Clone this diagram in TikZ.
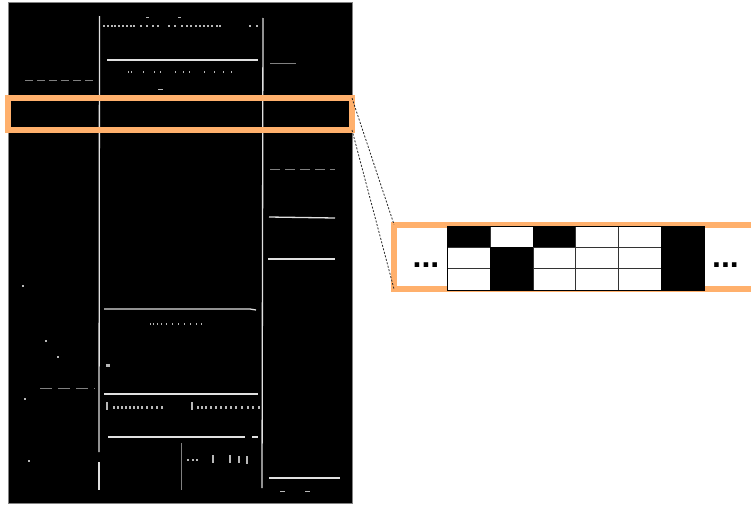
\documentclass[tikz,border=0pt]{standalone}
\usepackage{fontspec}
\usepackage{xcolor}
\usepackage{tikz}
\usetikzlibrary{positioning, arrows.meta}
\newfontfamily\dotfont{Liberation Sans}
\definecolor{hlorange}{RGB}{255,176,108}
\definecolor{pageedge}{RGB}{130,130,130}
\tikzset{
    scan/.style      = {fill=black, draw=pageedge, line width=0.8},
    rule/.style      = {draw=white!88!black, line width=1.3},
    faint/.style     = {draw=white!50!black, line width=0.9},
    speck/.style     = {fill=white!72!black},
    hlbox/.style     = {draw=hlorange, line width=6, outer sep=0pt, inner sep=0pt},
    zoomline/.style  = {draw=black!85, line width=0.8, dash pattern=on 2pt off 1.6pt},
    cellw/.style     = {draw=black!80, fill=white, line width=0.8, outer sep=0pt,
                        minimum width=42.8pt, minimum height=21.33pt, inner sep=0pt},
    cellb/.style     = {cellw, draw=black, fill=black},
    ellip/.style     = {font=\dotfont\bfseries\fontsize{32}{32}\selectfont, inner sep=0pt, anchor=base}
}
\begin{document}
\begin{tikzpicture}[x=1pt, y=-1pt]
        \clip (0,0) rectangle (751,506);

        % scanned page
        \fill[scan] (8,2) rectangle (352,503);
        \draw[rule] (99.5,16) -- (99,452);
        \draw[rule] (99,462) -- (99,490);
        \draw[rule] (263,18) -- (262,488);
        \draw[rule, line width=1.8] (107,60) -- (258,60);
        \draw[faint] (270,63) -- (296,63);
        \draw[faint, dash pattern=on 8pt off 4pt] (25,80) -- (95,80);
        \draw[faint, dash pattern=on 10pt off 5pt] (270,169) -- (335,169);
        \draw[rule] (269,217) -- (335,218);
        \draw[rule] (268,259) -- (335,259);
        \draw[rule] (104,309) -- (250,309) -- (256,310);
        \draw[rule] (104,394) -- (258,394);
        \draw[rule] (108,437) -- (245,437);
        \draw[rule] (252,437) -- (258,437);
        \draw[faint] (181,443) -- (181,490);
        \draw[rule] (269,478) -- (340,478);
        \draw[faint, dash pattern=on 12pt off 6pt] (40,388) -- (95,388);

        % print specks
        \foreach \x in {103,107,111,114,118,122,126,130,133,140,146,152,157,
                        168,174,181,186,190,195,199,203,207,211,216,219,249,256}
            \fill[speck] (\x,24.8) rectangle ++(1.6,2.6);
        \foreach \x in {146,178} \fill[speck] (\x,16.5) rectangle ++(3,0.8);
        \foreach \x in {128,131,143,154,160,175,183,189,204,214,223,231}
            \fill[speck] (\x,71.2) rectangle ++(1.3,1.6);
        \fill[speck] (158,89) rectangle ++(5,1);
        \foreach \x in {150,153,157,161,166,172,178,184,190,196,201}
            \fill[speck] (\x,323.2) rectangle ++(1.3,2);
        \fill[speck] (106,364) rectangle ++(4,3);
        \fill[speck] (106,402) rectangle ++(2.2,8);
        \fill[speck] (191,402) rectangle ++(2.2,8);
        \foreach \x in {113,117,121,125,129,133,137,141,146,151,156,161,
                        197,201,205,210,215,220,225,230,235,241,247,252,258}
            \fill[speck] (\x,405.8) rectangle ++(1.6,3);
        \foreach \x in {187,192,196}
            \fill[speck] (\x,459) rectangle ++(1.6,1.6);
        \fill[speck] (212,455) rectangle ++(2.4,8);
        \fill[speck] (229,455) rectangle ++(2.4,8);
        \fill[speck] (238,456) rectangle ++(1.8,7);
        \fill[speck] (246,456) rectangle ++(1.8,8);
        \foreach \x/\y in {22/285, 45/340, 57/356, 24/398, 28/460} \fill[speck] (\x,\y) rectangle ++(1.5,1.5);
        \foreach \x in {280,305} \fill[speck] (\x,490.5) rectangle ++(5,0.8);

        % highlighted row and its enlargement
        \node[hlbox, minimum width=344pt, minimum height=32pt] (hl) at (180,114) {};
        \node[hlbox, fill=white, minimum width=376pt, minimum height=64.5pt] (zoom) at (582,256.75) {};

        \foreach \c/\a/\b/\d in {1/cellb/cellw/cellw, 2/cellw/cellb/cellb, 3/cellb/cellw/cellw,
                                 4/cellw/cellw/cellw, 5/cellw/cellw/cellw, 6/cellb/cellb/cellb} {
            \node[\a] (c-1-\c) at (447.3+42.8*\c-21.4,236.67) {};
            \node[\b] (c-2-\c) at (447.3+42.8*\c-21.4,258) {};
            \node[\d] (c-3-\c) at (447.3+42.8*\c-21.4,279.33) {};
        }
        \draw[black, line width=0.9] (c-1-1.north west) rectangle (c-3-6.south east);

        \node[ellip] (dl) at (426,267.5) {...};
        \node[ellip] (dr) at (725.5,267.5) {...};

        \draw[zoomline] (hl.north east) -- (zoom.north west);
        \draw[zoomline] (hl.south east) -- (zoom.south west);
    \end{tikzpicture}
\end{document}
